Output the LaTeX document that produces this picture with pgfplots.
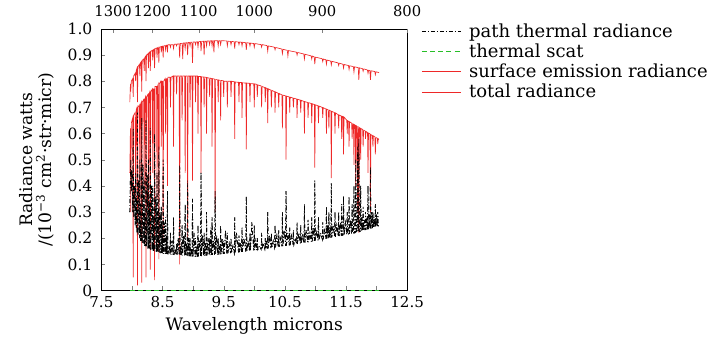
\documentclass[border=0pt]{standalone}
\usepackage{fontspec}
\setmainfont{DejaVu Serif}
\usepackage{pgfplots}
\pgfplotsset{compat=1.18}
\usepackage{pgfplotstable}
\definecolor{rred}{RGB}{238,40,40}
\definecolor{ggreen}{RGB}{40,190,40}

\pgfplotstableread{
x y
7.965 0.30
7.975 0.45
7.98 0.50
7.99 0.38
8.00 0.46
8.012 0.30
8.02 0.62
8.028 0.28
8.04 0.40
8.052 0.25
8.06 0.45
8.068 0.24
8.075 0.36
8.082 0.22
8.09 0.68
8.098 0.21
8.11 0.42
8.122 0.20
8.13 0.50
8.138 0.19
8.145 0.33
8.152 0.19
8.16 0.66
8.168 0.18
8.18 0.48
8.192 0.18
8.20 0.42
8.208 0.17
8.215 0.30
8.222 0.17
8.23 0.65
8.238 0.17
8.25 0.44
8.262 0.16
8.27 0.50
8.278 0.16
8.285 0.34
8.292 0.16
8.30 0.62
8.308 0.155
8.32 0.40
8.332 0.155
8.34 0.40
8.348 0.15
8.355 0.28
8.362 0.15
8.37 0.60
8.378 0.15
8.39 0.36
8.402 0.148
8.41 0.45
8.418 0.147
8.425 0.30
8.432 0.145
8.44 0.55
8.448 0.145
8.46 0.30
8.472 0.143
8.48 0.32
8.488 0.142
8.495 0.25
8.502 0.142
8.51 0.50
8.518 0.14
8.53 0.26
8.542 0.14
8.55 0.28
8.558 0.14
8.565 0.21
8.572 0.138
8.58 0.38
8.588 0.138
8.61 0.17
8.622 0.138
8.63 0.22
8.638 0.137
8.655 0.19
8.672 0.137
8.68 0.28
8.688 0.136
8.705 0.16
8.722 0.136
8.73 0.18
8.738 0.136
8.755 0.20
8.772 0.135
8.78 0.48
8.788 0.135
8.80 0.17
8.812 0.135
8.82 0.25
8.828 0.134
8.845 0.21
8.862 0.134
8.87 0.33
8.878 0.133
8.89 0.18
8.902 0.133
8.91 0.42
8.918 0.132
8.93 0.20
8.942 0.132
8.95 0.20
8.958 0.131
8.97 0.16
8.982 0.131
8.99 0.35
8.998 0.13
9.015 0.22
9.032 0.13
9.04 0.20
9.048 0.13
9.06 0.17
9.072 0.13
9.08 0.25
9.088 0.131
9.105 0.19
9.122 0.131
9.13 0.45
9.138 0.132
9.155 0.21
9.172 0.132
9.18 0.22
9.188 0.133
9.20 0.18
9.212 0.133
9.22 0.30
9.228 0.134
9.245 0.20
9.262 0.135
9.27 0.20
9.278 0.135
9.29 0.24
9.302 0.135
9.31 0.28
9.318 0.136
9.335 0.19
9.352 0.136
9.36 0.38
9.368 0.137
9.385 0.21
9.402 0.137
9.41 0.20
9.418 0.138
9.43 0.17
9.442 0.138
9.45 0.25
9.458 0.139
9.475 0.20
9.492 0.14
9.50 0.19
9.508 0.14
9.53 0.23
9.552 0.141
9.56 0.22
9.568 0.142
9.59 0.18
9.612 0.143
9.62 0.20
9.628 0.143
9.65 0.17
9.672 0.144
9.68 0.28
9.688 0.145
9.71 0.22
9.742 0.146
9.75 0.21
9.758 0.147
9.775 0.18
9.792 0.147
9.80 0.24
9.808 0.148
9.83 0.20
9.862 0.149
9.87 0.36
9.878 0.15
9.90 0.19
9.922 0.151
9.93 0.22
9.938 0.152
9.96 0.26
9.992 0.154
10.00 0.25
10.008 0.155
10.025 0.19
10.042 0.155
10.05 0.20
10.058 0.156
10.085 0.17
10.112 0.157
10.12 0.22
10.128 0.158
10.15 0.18
10.172 0.159
10.18 0.20
10.188 0.16
10.20 0.19
10.212 0.16
10.22 0.30
10.228 0.161
10.25 0.21
10.272 0.162
10.28 0.22
10.288 0.163
10.31 0.19
10.332 0.165
10.34 0.25
10.348 0.165
10.37 0.21
10.392 0.167
10.40 0.23
10.408 0.167
10.43 0.20
10.452 0.169
10.46 0.30
10.468 0.17
10.49 0.23
10.512 0.171
10.52 0.38
10.528 0.172
10.55 0.22
10.572 0.173
10.58 0.24
10.588 0.174
10.61 0.21
10.632 0.176
10.64 0.23
10.648 0.176
10.67 0.20
10.692 0.178
10.70 0.26
10.708 0.178
10.73 0.22
10.752 0.18
10.76 0.25
10.768 0.181
10.79 0.21
10.812 0.182
10.82 0.33
10.828 0.183
10.85 0.23
10.872 0.185
10.88 0.27
10.888 0.185
10.91 0.22
10.932 0.187
10.94 0.28
10.948 0.188
10.965 0.24
10.982 0.19
10.99 0.42
10.998 0.19
11.02 0.23
11.042 0.192
11.05 0.28
11.058 0.193
11.085 0.22
11.112 0.196
11.12 0.26
11.128 0.196
11.15 0.23
11.172 0.198
11.18 0.32
11.188 0.199
11.20 0.25
11.212 0.2
11.22 0.30
11.228 0.201
11.24 0.24
11.252 0.202
11.26 0.41
11.268 0.203
11.29 0.25
11.312 0.205
11.32 0.30
11.328 0.205
11.35 0.25
11.372 0.208
11.38 0.30
11.388 0.208
11.41 0.26
11.422 0.21
11.43 0.33
11.438 0.211
11.452 0.212
11.46 0.36
11.468 0.212
11.49 0.26
11.512 0.215
11.52 0.30
11.528 0.215
11.542 0.216
11.55 0.36
11.558 0.217
11.575 0.27
11.592 0.218
11.60 0.33
11.608 0.219
11.622 0.22
11.63 0.40
11.638 0.22
11.652 0.221
11.66 0.50
11.668 0.222
11.682 0.223
11.69 0.55
11.698 0.224
11.703 0.224
11.71 0.58
11.718 0.225
11.732 0.226
11.74 0.40
11.748 0.227
11.76 0.28
11.772 0.228
11.78 0.32
11.788 0.229
11.80 0.27
11.812 0.231
11.82 0.30
11.828 0.232
11.84 0.28
11.852 0.233
11.86 0.40
11.868 0.234
11.88 0.29
11.892 0.236
11.90 0.47
11.908 0.237
11.92 0.30
11.932 0.239
11.94 0.30
11.948 0.24
11.96 0.28
11.972 0.242
11.98 0.33
11.988 0.243
12.00 0.29
12.012 0.245
12.02 0.30
12.028 0.247
12.04 0.25
}\pathdata

\pgfplotstableread{
x y
7.965 0.45
7.975 0.62
7.98 0.30
7.99 0.64
8.012 0.66
8.02 0.05
8.028 0.67
8.052 0.68
8.06 0.35
8.068 0.69
8.082 0.70
8.09 0.02
8.098 0.70
8.122 0.71
8.13 0.25
8.138 0.71
8.152 0.72
8.16 0.03
8.168 0.72
8.192 0.73
8.20 0.40
8.208 0.73
8.222 0.74
8.23 0.05
8.238 0.74
8.262 0.75
8.27 0.30
8.278 0.75
8.292 0.76
8.30 0.08
8.308 0.76
8.332 0.77
8.34 0.45
8.348 0.77
8.362 0.77
8.37 0.04
8.378 0.78
8.402 0.78
8.41 0.35
8.418 0.78
8.432 0.79
8.44 0.12
8.448 0.79
8.472 0.80
8.48 0.55
8.488 0.80
8.502 0.80
8.51 0.20
8.518 0.80
8.542 0.81
8.55 0.60
8.558 0.81
8.572 0.81
8.58 0.40
8.588 0.815
8.622 0.815
8.63 0.70
8.638 0.815
8.672 0.82
8.68 0.55
8.688 0.82
8.722 0.82
8.73 0.75
8.738 0.82
8.772 0.82
8.78 0.10
8.788 0.82
8.812 0.82
8.82 0.65
8.828 0.82
8.862 0.82
8.87 0.45
8.878 0.82
8.902 0.82
8.91 0.20
8.918 0.82
8.942 0.82
8.95 0.70
8.958 0.82
8.982 0.82
8.99 0.42
8.998 0.82
9.032 0.82
9.04 0.72
9.048 0.82
9.072 0.82
9.08 0.60
9.088 0.818
9.122 0.818
9.13 0.45
9.138 0.817
9.172 0.816
9.18 0.70
9.188 0.816
9.212 0.815
9.22 0.60
9.228 0.814
9.262 0.812
9.27 0.74
9.278 0.812
9.302 0.81
9.31 0.55
9.318 0.81
9.352 0.808
9.36 0.30
9.368 0.807
9.402 0.805
9.41 0.72
9.418 0.805
9.442 0.803
9.45 0.65
9.458 0.803
9.492 0.802
9.50 0.74
9.508 0.80
9.552 0.80
9.56 0.70
9.568 0.80
9.612 0.80
9.62 0.74
9.628 0.80
9.672 0.798
9.68 0.58
9.688 0.797
9.742 0.796
9.75 0.72
9.758 0.795
9.792 0.795
9.80 0.66
9.808 0.794
9.862 0.793
9.87 0.54
9.878 0.793
9.922 0.792
9.93 0.72
9.938 0.791
9.992 0.79
10.00 0.70
10.008 0.79
10.042 0.788
10.05 0.74
10.058 0.786
10.112 0.782
10.12 0.70
10.128 0.78
10.172 0.776
10.18 0.72
10.188 0.775
10.212 0.772
10.22 0.64
10.228 0.771
10.272 0.766
10.28 0.70
10.288 0.765
10.332 0.76
10.34 0.68
10.348 0.759
10.392 0.754
10.40 0.70
10.408 0.753
10.452 0.748
10.46 0.62
10.468 0.747
10.512 0.744
10.52 0.50
10.528 0.743
10.572 0.74
10.58 0.68
10.588 0.739
10.632 0.736
10.64 0.70
10.648 0.735
10.692 0.732
10.70 0.66
10.708 0.731
10.752 0.728
10.76 0.68
10.768 0.727
10.812 0.723
10.82 0.60
10.828 0.722
10.872 0.719
10.88 0.66
10.888 0.718
10.932 0.715
10.94 0.64
10.948 0.714
10.982 0.711
10.99 0.47
10.998 0.71
11.042 0.706
11.05 0.64
11.058 0.705
11.112 0.70
11.12 0.66
11.128 0.699
11.172 0.694
11.18 0.60
11.188 0.693
11.212 0.69
11.22 0.62
11.228 0.689
11.252 0.686
11.26 0.43
11.268 0.685
11.312 0.68
11.32 0.60
11.328 0.679
11.372 0.672
11.38 0.62
11.388 0.671
11.422 0.667
11.43 0.58
11.438 0.666
11.452 0.664
11.46 0.52
11.468 0.663
11.512 0.651
11.52 0.60
11.528 0.649
11.542 0.647
11.55 0.55
11.558 0.645
11.592 0.640
11.60 0.58
11.608 0.638
11.622 0.636
11.63 0.48
11.638 0.634
11.652 0.632
11.66 0.40
11.668 0.630
11.682 0.628
11.69 0.30
11.698 0.626
11.703 0.625
11.71 0.22
11.718 0.623
11.732 0.621
11.74 0.50
11.748 0.619
11.772 0.616
11.78 0.55
11.788 0.613
11.812 0.610
11.82 0.58
11.828 0.608
11.852 0.604
11.86 0.45
11.868 0.602
11.892 0.599
11.90 0.30
11.908 0.596
11.932 0.593
11.94 0.55
11.948 0.591
11.972 0.588
11.98 0.52
11.988 0.585
12.012 0.582
12.02 0.56
12.028 0.580
12.04 0.578
}\surfdata

\pgfplotstableread{
x y
7.965 0.72
7.975 0.79
7.98 0.76
7.99 0.80
8.012 0.81
8.02 0.74
8.028 0.82
8.052 0.83
8.06 0.80
8.068 0.84
8.082 0.85
8.09 0.72
8.098 0.855
8.122 0.865
8.13 0.82
8.138 0.87
8.152 0.875
8.16 0.76
8.168 0.88
8.192 0.885
8.20 0.84
8.208 0.89
8.222 0.895
8.23 0.80
8.238 0.90
8.262 0.905
8.27 0.85
8.278 0.91
8.292 0.912
8.30 0.84
8.308 0.915
8.332 0.918
8.34 0.88
8.348 0.92
8.362 0.922
8.37 0.85
8.378 0.925
8.402 0.927
8.41 0.89
8.418 0.928
8.432 0.93
8.44 0.87
8.448 0.93
8.472 0.932
8.48 0.91
8.488 0.933
8.502 0.934
8.51 0.89
8.518 0.935
8.542 0.936
8.55 0.92
8.558 0.937
8.572 0.938
8.58 0.91
8.588 0.939
8.62 0.94
8.63 0.93
8.64 0.94
8.67 0.94
8.68 0.925
8.69 0.941
8.72 0.942
8.73 0.935
8.74 0.942
8.77 0.943
8.78 0.89
8.79 0.944
8.82 0.945
8.83 0.885
8.84 0.946
8.86 0.946
8.87 0.925
8.88 0.947
8.90 0.947
8.91 0.90
8.92 0.948
8.94 0.948
8.95 0.935
8.96 0.949
8.98 0.949
8.99 0.87
9.00 0.95
9.03 0.95
9.04 0.94
9.05 0.95
9.07 0.951
9.08 0.93
9.09 0.951
9.12 0.952
9.13 0.915
9.14 0.952
9.17 0.953
9.18 0.90
9.19 0.953
9.21 0.953
9.22 0.935
9.23 0.954
9.26 0.954
9.27 0.94
9.28 0.954
9.30 0.955
9.31 0.935
9.32 0.955
9.33 0.955
9.34 0.91
9.35 0.955
9.40 0.955
9.41 0.935
9.42 0.955
9.44 0.955
9.45 0.94
9.46 0.955
9.55 0.954
9.56 0.935
9.57 0.953
9.61 0.952
9.62 0.94
9.63 0.952
9.67 0.951
9.68 0.925
9.69 0.951
9.74 0.95
9.75 0.94
9.76 0.95
9.79 0.949
9.80 0.935
9.81 0.949
9.86 0.947
9.87 0.92
9.88 0.947
9.92 0.946
9.93 0.935
9.94 0.946
9.99 0.944
10.00 0.93
10.01 0.944
10.11 0.94
10.12 0.93
10.13 0.94
10.21 0.936
10.22 0.915
10.23 0.935
10.33 0.93
10.34 0.92
10.35 0.929
10.45 0.923
10.46 0.905
10.47 0.922
10.54 0.918
10.55 0.896
10.56 0.917
10.69 0.911
10.70 0.90
10.71 0.91
10.81 0.904
10.82 0.885
10.83 0.903
10.93 0.897
10.94 0.885
10.95 0.896
10.98 0.893
10.99 0.865
11.00 0.892
11.11 0.886
11.12 0.875
11.13 0.885
11.17 0.882
11.18 0.865
11.19 0.881
11.25 0.877
11.26 0.862
11.27 0.876
11.37 0.87
11.38 0.86
11.39 0.869
11.45 0.865
11.46 0.85
11.47 0.864
11.54 0.86
11.55 0.845
11.56 0.859
11.62 0.856
11.63 0.835
11.64 0.855
11.70 0.852
11.71 0.805
11.72 0.851
11.77 0.848
11.78 0.838
11.79 0.847
11.85 0.843
11.86 0.83
11.87 0.842
11.89 0.841
11.90 0.805
11.91 0.84
11.97 0.837
11.98 0.825
11.99 0.836
12.04 0.833
}\totaldata

\pgfplotstableread{
x y
7.965 0
12.04 0
}\scatdata

\begin{document}
\begin{tikzpicture}[font=\fontsize{10.5}{12.5}\selectfont]
\begin{axis}[
  width=187pt, height=160pt, scale only axis,
  xmin=7.5, xmax=12.5, ymin=0, ymax=1,
  xtick={7.5,8,8.5,9,9.5,10,10.5,11,11.5,12,12.5},
  xticklabels={7.5,,8.5,,9.5,,10.5,,11.5,,12.5},
  ytick={0,0.1,0.2,0.3,0.4,0.5,0.6,0.7,0.8,0.9,1.0},
  yticklabels={0,0.1,0.2,0.3,0.4,0.5,0.6,0.7,0.8,0.9,1.0},
  tick align=inside, xtick pos=left, ytick pos=left,
  major tick length=2.5pt,
  xticklabel style={font=\fontsize{9.2}{11}\selectfont},
  yticklabel style={font=\fontsize{9.5}{11}\selectfont, xshift=-2pt},
  xlabel={Wavelength microns},
  ylabel={Radiance watts\\/(10\textsuperscript{−3} cm\textsuperscript{2}·str·micr)},
  ylabel style={align=center, font=\fontsize{10.5}{11.5}\selectfont},
  ylabel shift=1.5pt,
  xlabel style={font=\fontsize{10.5}{12.5}\selectfont, yshift=1pt},
  clip=false,
  legend style={at={(1.045,1.035)}, anchor=north west, draw=none, fill=none,
    font=\fontsize{11}{12}\selectfont, row sep=-1.5pt, inner sep=0pt},
  legend cell align=left,
  legend image code/.code={\draw[#1] (0cm,0cm) -- (0.85cm,0cm); \path (0.93cm,0cm);},
]
\addplot[black, line width=0.4pt, dash pattern=on 2.5pt off 1.2pt on 0.6pt off 1.2pt] table[x=x,y=y] {\pathdata};
\addlegendentry{path thermal radiance}
\addplot[ggreen, line width=0.8pt, dash pattern=on 3pt off 2pt] table[x=x,y=y] {\scatdata};
\addlegendentry{thermal scat}
\addplot[rred, line width=0.4pt] table[x=x,y=y] {\surfdata};
\addlegendentry{surface emission radiance}
\addplot[rred, line width=0.4pt] table[x=x,y=y] {\totaldata};
\addlegendentry{total radiance}
\addplot[black, line width=0.4pt, dash pattern=on 2.5pt off 1.2pt on 0.6pt off 1.2pt, forget plot] table[x=x,y=y] {\pathdata};
\end{axis}
\begin{axis}[
  width=187pt, height=160pt, scale only axis,
  xmin=7.5, xmax=12.5, ymin=0, ymax=1,
  axis x line*=top, hide y axis,
  xtick={7.6923,8.3333,9.0909,10,11.1111,12.5},
  xticklabels={1300,1200,1100,1000,900,800},
  tick align=inside, major tick length=2.5pt,
  xticklabel style={font=\fontsize{9}{11}\selectfont, yshift=4pt},
]
\end{axis}
\path (-62pt,0) -- (-62pt,1pt);
\end{tikzpicture}
\end{document}
